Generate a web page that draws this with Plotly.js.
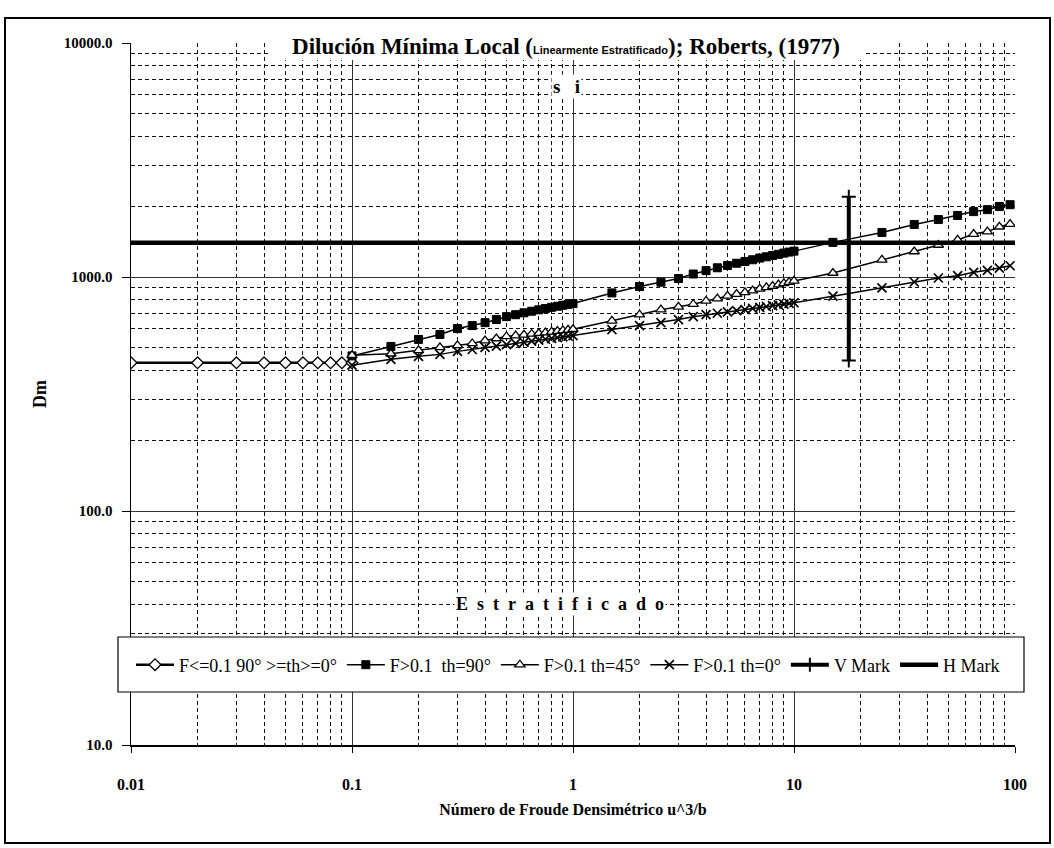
<!DOCTYPE html>
<html>
<head>
<meta charset="utf-8">
<script src="https://cdn.plot.ly/plotly-3.0.1.min.js"></script>
<style>html,body{margin:0;padding:0;background:#fff;}#chart{width:1054px;height:848px;}</style>
</head>
<body>
<div id="chart"></div>
<script>
// ---- data ----
const xLow = [0.01, 0.02, 0.03, 0.04, 0.05, 0.06, 0.07, 0.08, 0.09, 0.1];
const yLow = [430, 430, 430, 430, 430, 430, 430, 430, 430, 430];

const xHigh = [0.1, 0.15, 0.2, 0.25, 0.3, 0.35, 0.4, 0.45, 0.5, 0.55, 0.6, 0.65, 0.7, 0.75, 0.8, 0.85, 0.9, 0.95, 1,
  1.5, 2, 2.5, 3, 3.5, 4, 4.5, 5, 5.5, 6, 6.5, 7, 7.5, 8, 8.5, 9, 9.5, 10,
  15, 25, 35, 45, 55, 65, 75, 85, 95];
const y90 = [460, 505, 541, 568, 602, 620, 638, 658, 677, 690, 703, 714, 724, 733, 742, 750, 757, 764, 770,
  855, 910, 950, 985, 1030, 1065, 1095, 1120, 1145, 1165, 1185, 1205, 1220, 1235, 1250, 1265, 1278, 1290,
  1406, 1550, 1677, 1760, 1832, 1903, 1940, 2000, 2037];
const y45 = [463, 470, 486, 500, 510, 520, 535, 546, 557, 562, 566, 571, 575, 579, 583, 587, 591, 594, 598,
  650, 690, 725, 746, 765, 790, 808, 830, 845, 860, 875, 890, 903, 915, 928, 940, 951, 962,
  1040, 1184, 1285, 1370, 1440, 1526, 1563, 1640, 1683];
const y0 = [420, 445, 458, 467, 481, 490, 500, 507, 514, 520, 526, 532, 537, 542, 547, 551, 555, 559, 562,
  596, 620, 638, 658, 677, 690, 700, 710, 718, 726, 734, 741, 748, 754, 760, 765, 771, 776,
  828, 898, 952, 990, 1013, 1047, 1068, 1092, 1117];

const vMarkX = [17.7, 17.7];
const vMarkY = [440, 2200];
const hMarkX = [0.01, 100];
const hMarkY = [1400, 1400];

const seriesNames = ["F<=0.1 90° >=th>=0°", "F>0.1\u00a0 th=90°", "F>0.1 th=45°", "F>0.1 th=0°", "V Mark", "H Mark"];
const xTickVals = [0.01, 0.1, 1, 10, 100];
const xTickText = ["0.01", "0.1", "1", "10", "100"];
const yTickVals = [10, 100, 1000, 10000];
const yTickText = ["10.0", "100.0", "1000.0", "10000.0"];

// ---- chart ----
const serif = "Liberation Serif, Times New Roman, serif";
const traces = [
  {x: xLow, y: yLow, name: seriesNames[0], mode: 'lines+markers',
   line: {color: 'black', width: 2.5},
   marker: {symbol: 'diamond', size: 9, color: 'white', line: {color: 'black', width: 1.3}}},
  {x: xHigh, y: y90, name: seriesNames[1], mode: 'lines+markers',
   line: {color: 'black', width: 1.5},
   marker: {symbol: 'square', size: 8, color: 'black', line: {color: 'black', width: 1}}},
  {x: xHigh, y: y45, name: seriesNames[2], mode: 'lines+markers',
   line: {color: 'black', width: 1.5},
   marker: {symbol: 'triangle-up', size: 9, color: 'white', line: {color: 'black', width: 1.3}}},
  {x: xHigh, y: y0, name: seriesNames[3], mode: 'lines+markers',
   line: {color: 'black', width: 1.5},
   marker: {symbol: 'x-thin', size: 9, color: 'black', line: {color: 'black', width: 1.7}}},
  {x: vMarkX, y: vMarkY, name: seriesNames[4], mode: 'lines+markers',
   line: {color: 'black', width: 4},
   marker: {symbol: 'cross-thin', size: 10, color: 'black', line: {color: 'black', width: 2}}},
  {x: hMarkX, y: hMarkY, name: seriesNames[5], mode: 'lines',
   line: {color: 'black', width: 4.5}}
];

const L = 131, R = 1015, T = 43, B = 745;
const W = R - L, H = B - T;
const px = v => (v - L) / W;
const py = v => (B - v) / H;
const spaced = s => s.split('').join('&nbsp;&nbsp;');

const layout = {
  width: 1054, height: 848,
  margin: {l: L, r: 1054 - R, t: T, b: 848 - B},
  paper_bgcolor: 'white', plot_bgcolor: 'white',
  font: {family: serif, color: 'black', size: 15},
  showlegend: true,
  title: {
    text: '<b>Dilución Mínima Local (<span style="font-family:Liberation Sans, Arial, sans-serif;font-size:11px">Linearmente Estratificado</span>); Roberts, (1977)</b>',
    font: {family: serif, size: 23, color: 'black'},
    xref: 'paper', yref: 'paper', x: px(566), y: py(46), xanchor: 'center', yanchor: 'middle'
  },
  xaxis: {
    type: 'log', range: [-2, 2],
    tickvals: xTickVals, ticktext: xTickText,
    ticks: 'outside', ticklen: 6, tickcolor: 'black', tickwidth: 1,
    ticklabelstandoff: 18,
    tickfont: {family: serif, size: 16, color: 'black', weight: 'bold'},
    showline: true, linecolor: 'black', linewidth: 1.5,
    showgrid: true, gridcolor: '#333', gridwidth: 1,
    minor: {dtick: 'D1', showgrid: true, gridcolor: '#111', gridwidth: 1, griddash: '4px,3px', ticks: ''},
    zeroline: false,
    title: {text: '<b>Número de Froude Densimétrico u^3/b</b>', font: {family: serif, size: 16, color: 'black'}, standoff: 12}
  },
  yaxis: {
    type: 'log', range: [1, 4],
    tickvals: yTickVals, ticktext: yTickText,
    ticks: 'outside', ticklen: 8, tickcolor: 'black', tickwidth: 1,
    ticklabelstandoff: 6,
    tickfont: {family: serif, size: 15, color: 'black', weight: 'bold'},
    showline: true, linecolor: 'black', linewidth: 1.5,
    showgrid: true, gridcolor: '#333', gridwidth: 1,
    minor: {dtick: 'D1', showgrid: true, gridcolor: '#111', gridwidth: 1, griddash: '4px,3px', ticks: ''},
    zeroline: false,
    title: {text: '<b>Dm</b>', font: {family: serif, size: 18, color: 'black'}, standoff: 12}
  },
  legend: {
    orientation: 'h', x: 0, y: py(665), xanchor: 'left', yanchor: 'middle',
    xref: 'paper', yref: 'paper',
    bgcolor: 'rgba(0,0,0,0)', borderwidth: 0,
    font: {family: serif, size: 18, color: 'black'},
    traceorder: 'normal', itemwidth: 38
  },
  shapes: [
    // white box behind the title
    {type: 'rect', xref: 'paper', yref: 'paper', x0: px(268), x1: px(864), y0: py(60), y1: py(31),
     fillcolor: 'white', line: {width: 0}, layer: 'above'},
    // legend box
    {type: 'rect', xref: 'paper', yref: 'paper', x0: px(118), x1: px(1024), y0: py(692), y1: py(637),
     fillcolor: 'white', line: {color: 'black', width: 1.2}, layer: 'above'},
    // outer frame
    {type: 'rect', xref: 'paper', yref: 'paper', x0: px(5), x1: px(1050), y0: py(843), y1: py(18),
     fillcolor: 'rgba(0,0,0,0)', line: {color: 'black', width: 2}, layer: 'above'}
  ],
  annotations: [
    {text: '<b>s&nbsp;&nbsp;&nbsp;i</b>', xref: 'paper', yref: 'paper', x: px(566), y: py(87), showarrow: false,
     font: {family: serif, size: 19, color: 'black'}, bgcolor: 'white', xanchor: 'center', yanchor: 'middle'},
    {text: '<b>' + spaced('Estratificado') + '</b>', xref: 'paper', yref: 'paper', x: px(560), y: py(604), showarrow: false,
     font: {family: serif, size: 18, color: 'black'}, bgcolor: 'white', xanchor: 'center', yanchor: 'middle'}
  ]
};

Plotly.newPlot('chart', traces, layout, {displayModeBar: false, staticPlot: true});
</script>
</body>
</html>
